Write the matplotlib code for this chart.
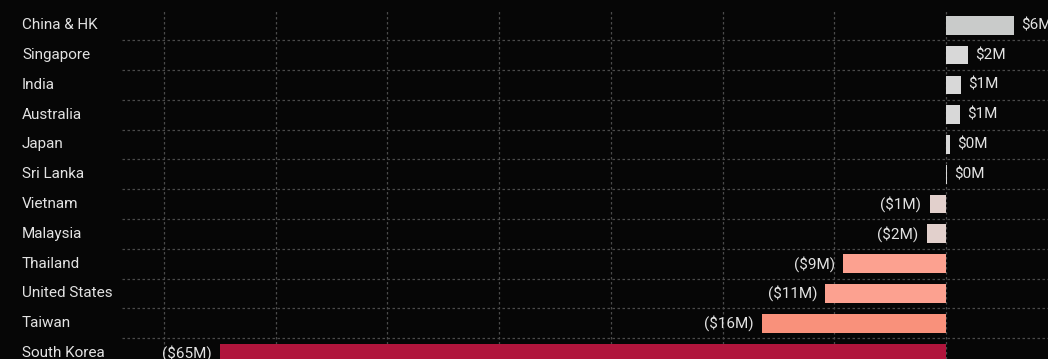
import numpy as np
import matplotlib
matplotlib.use("Agg")
import matplotlib.pyplot as plt
import matplotlib.transforms as mtransforms

# Net change by market, in $M
countries = ["China & HK", "Singapore", "India", "Australia", "Japan", "Sri Lanka",
             "Vietnam", "Malaysia", "Thailand", "United States", "Taiwan", "South Korea"]
values = [6.1, 2.0, 1.35, 1.25, 0.35, 0.12,
          -1.45, -1.7, -9.2, -10.8, -16.5, -65.0]
colors = ["#c9cbca", "#d8d8d8", "#d8d8d8", "#d8d8d8", "#d8d8d8", "#d8d8d8",
          "#e2d0cc", "#e2d0cc", "#fca190", "#fca190", "#f9917b", "#b0153c"]

bg = "#060606"
txt = "#e2e2e2"
plt.rcParams["font.family"] = ["Roboto", "DejaVu Sans"]

fig = plt.figure(figsize=(10.48, 3.59), dpi=100, facecolor=bg)
ax = fig.add_axes([122 / 1048, 0, 926 / 1048, 1 - 11 / 359])
ax.set_facecolor(bg)

y = np.arange(len(countries))
ax.barh(y, values, height=0.63, color=colors, zorder=3)

ax.set_xlim(-73.76, 9.13)
ax.set_ylim(11.2, -0.48)

# dashed grid: vertical every $10M, horizontal between rows
ax.set_xticks(np.arange(-70, 1, 10))
ax.set_yticks(y)
ax.set_yticks(y[:-1] + 0.5, minor=True)
ax.grid(axis="x", which="major", color="#4a4a4a", linestyle=(0, (2, 2)), linewidth=0.9, zorder=0)
ax.grid(axis="y", which="minor", color="#4a4a4a", linestyle=(0, (2, 2)), linewidth=0.9, zorder=0)
ax.tick_params(which="both", length=0, labelbottom=False, labelleft=False)
for s in ax.spines.values():
    s.set_visible(False)

# country names, left aligned in figure coords
trans = mtransforms.blended_transform_factory(fig.transFigure, ax.transData)
for yi, name in zip(y, countries):
    ax.text(22 / 1048, yi, name, transform=trans, ha="left", va="center",
            color=txt, fontsize=11, clip_on=False)

# value labels
for yi, v in zip(y, values):
    if v >= 0:
        label = f"${round(v):.0f}M"
        ax.annotate(label, (v, yi), xytext=(5, 0), textcoords="offset points",
                    ha="left", va="center", color=txt, fontsize=11)
    else:
        label = f"(${round(-v):.0f}M)"
        ax.annotate(label, (v, yi), xytext=(-6, 0), textcoords="offset points",
                    ha="right", va="center", color=txt, fontsize=11)

fig.savefig("out.png", dpi=100, facecolor=bg)
